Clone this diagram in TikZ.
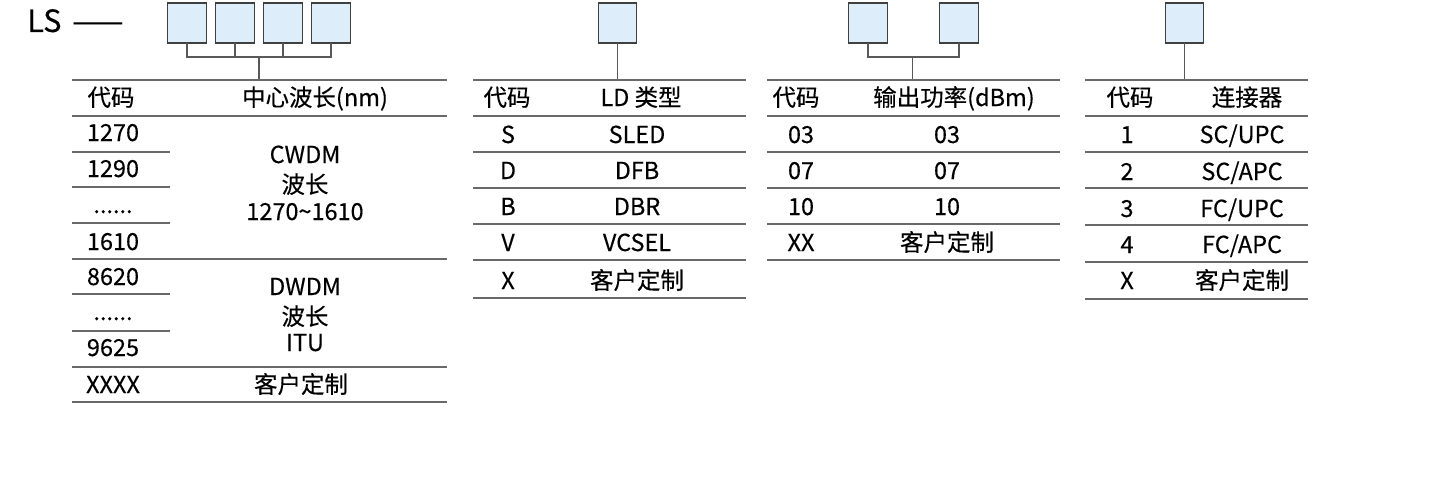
\documentclass[tikz,border=0pt]{standalone}
\usepackage{fontspec}
\setmainfont{Noto Sans CJK SC}[FakeBold=0.3]
\usetikzlibrary{positioning}
\definecolor{cellblue}{RGB}{221,238,250}
\definecolor{rulegray}{RGB}{105,105,105}
\newcommand\sixdots{......}

\begin{document}
\begin{tikzpicture}[x=0.75pt,y=-0.75pt, node distance=7pt,
  digit/.style={draw=black!75,line width=0.8pt,fill=cellblue,minimum width=29pt,minimum height=30pt,inner sep=0,outer sep=0},
  wire/.style={draw=black!65,line width=0.8pt},
  rule/.style={draw=rulegray,line width=0.9pt},
  cell/.style={anchor=base,inner sep=0,font=\fontsize{17.6}{21}\selectfont}]
\useasboundingbox (0,0) rectangle (1433,485);

\node[anchor=base west,inner sep=0,font=\fontsize{23}{26}\selectfont] (ls) at (27,32) {LS\hspace{0.35em}——};

% wavelength
\node[digit] (w1) at (187,23) {};
\node[digit,right=of w1] (w2) {};
\node[digit,right=of w2] (w3) {};
\node[digit,right=of w3] (w4) {};
\coordinate (wj) at (259,57);
\coordinate (wt) at (259,80);
\draw[wire] (w1.south) |- (w4.south |- wj) -- (w4.south);
\draw[wire] (w2.south) -- (w2.south |- wj);
\draw[wire] (w3.south) -- (w3.south |- wj);
\draw[wire] (wj) -- (wt);
\foreach \y in {80,116,259,367,402} \draw[rule] (72,\y) -- (447,\y);
\foreach \y in {152,187,223,294,331} \draw[rule] (72,\y) -- (170,\y);
\node[cell] (wh1) at (111,106) {代码};
\node[cell] (wh2) at (315,106) {中心波长(nm)};
\foreach \t/\y [count=\i] in {1270/141,1290/177,\sixdots/213,1610/250,8620/285,\sixdots/320,9625/356,XXXX/393}
  \node[cell] (wc\i) at (113,\y) {\t};
\node[cell] (cw1) at (305,163) {CWDM};
\node[cell] (cw2) at (305,193) {波长};
\node[cell] (cw3) at (305,220) {1270\textasciitilde1610};
\node[cell] (dw1) at (305,295) {DWDM};
\node[cell] (dw2) at (305,325) {波长};
\node[cell] (dw3) at (305,351) {ITU};
\node[cell] (wx) at (301,393) {客户定制};

% laser type
\node[digit] (t1) at (617.5,23) {};
\coordinate (tt) at (617.5,80);
\draw[wire] (t1.south) -- (tt);
\foreach \y in {80,116,152,188,224,260,298} \draw[rule] (473,\y) -- (746,\y);
\node[cell] (th1) at (507,106) {代码};
\node[cell] (th2) at (641,106) {LD 类型};
\foreach \a/\b/\y [count=\i] in {S/SLED/143,D/DFB/179,B/DBR/215,V/VCSEL/251,X/客户定制/289}{
  \node[cell] (tc\i) at (508,\y) {\a};
  \node[cell] (tv\i) at (637,\y) {\b};
}

% output power
\node[digit] (p1) at (868,23) {};
\node[digit] (p2) at (959,23) {};
\coordinate (pj) at (912.5,57);
\coordinate (pt) at (912.5,80);
\draw[wire] (p1.south) |- (p2.south |- pj) -- (p2.south);
\draw[wire] (pj) -- (pt);
\foreach \y in {80,116,152,188,224,260} \draw[rule] (767,\y) -- (1060,\y);
\node[cell] (ph1) at (796,106) {代码};
\node[cell] (ph2) at (954,106) {输出功率(dBm)};
\foreach \a/\b/\y [count=\i] in {03/03/143,07/07/179,10/10/215,XX/客户定制/251}{
  \node[cell] (pc\i) at (801,\y) {\a};
  \node[cell] (pv\i) at (947,\y) {\b};
}

% connector
\node[digit] (c1) at (1184.5,23) {};
\coordinate (ct) at (1184.5,80);
\draw[wire] (c1.south) -- (ct);
\foreach \y in {80,116,152,188,225,262,299} \draw[rule] (1085,\y) -- (1308,\y);
\node[cell] (ch1) at (1130,106) {代码};
\node[cell] (ch2) at (1247,106) {连接器};
\foreach \a/\b/\y [count=\i] in {1/{SC/UPC}/143,2/{SC/APC}/180,3/{FC/UPC}/217,4/{FC/APC}/253,X/客户定制/289}{
  \node[cell] (cc\i) at (1127,\y) {\a};
  \node[cell] (cv\i) at (1242,\y) {\b};
}
\end{tikzpicture}
\end{document}
